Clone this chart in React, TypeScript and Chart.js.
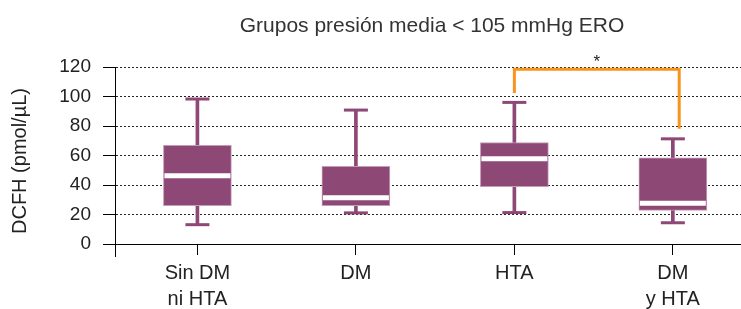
import React, { useEffect, useRef } from 'react';
import { Chart, registerables } from 'chart.js';

Chart.register(...registerables);

// ---- data ----
const categories: string[][] = [['Sin DM', 'ni HTA'], ['DM'], ['HTA'], ['DM', 'y HTA']];
const positions = [1, 2, 3, 4];
const whiskerMin = [13.1, 21.1, 21.3, 14.4];
const q1 = [26, 26, 38.9, 22.7];
const median = [46.3, 31.3, 57.8, 27.6];
const q3 = [66.9, 52.7, 68.8, 58.5];
const whiskerMax = [98.3, 90.8, 96, 71.3];
const yTicks = [0, 20, 40, 60, 80, 100, 120];
const bracketX = [3, 3, 4.04, 4.04];
const bracketY = [102.4, 118.5, 118.5, 78.2];
const starX = 3.52;
const starY = 126;
const titleText = 'Grupos presión media < 105 mmHg ERO';
const yTitleText = 'DCFH (pmol/µL)';
const starText = '*';

// ---- style ----
const FONT = '"Liberation Sans", Arial, Helvetica, sans-serif';
const PURPLE = '#8e4876';
const BOX_EDGE = '#c49bb6';
const ORANGE = '#f7941d';
const TEXT = '#222';

const annotate = {
  id: 'annotate',
  afterDraw(chart: any) {
    const { ctx, chartArea, scales } = chart;
    const x = scales.x;
    const y = scales.y;
    ctx.save();
    // title
    ctx.font = `21px ${FONT}`;
    ctx.fillStyle = '#333';
    ctx.textAlign = 'center';
    ctx.textBaseline = 'alphabetic';
    ctx.fillText(titleText, (chartArea.left + chartArea.right) / 2 + 4, 32);
    // y title
    ctx.save();
    ctx.translate(20, 161);
    ctx.rotate(-Math.PI / 2);
    ctx.font = `20px ${FONT}`;
    ctx.fillStyle = TEXT;
    ctx.textAlign = 'center';
    ctx.textBaseline = 'middle';
    ctx.fillText(yTitleText, 0, 0);
    ctx.restore();
    // significance star
    ctx.font = `17px ${FONT}`;
    ctx.fillStyle = TEXT;
    ctx.textAlign = 'center';
    ctx.textBaseline = 'middle';
    ctx.fillText(starText, x.getPixelForValue(starX), y.getPixelForValue(starY) + 4);
    // y-axis line continues a little below the x axis
    ctx.strokeStyle = '#000';
    ctx.lineWidth = 1;
    ctx.beginPath();
    const ax = Math.round(chartArea.left) + 0.5;
    ctx.moveTo(ax, chartArea.bottom);
    ctx.lineTo(ax, chartArea.bottom + 13);
    ctx.stroke();
    ctx.restore();
  },
};

export default function App() {
  const ref = useRef<HTMLCanvasElement | null>(null);

  useEffect(() => {
    document.body.style.margin = '0';
    const canvas = ref.current;
    if (!canvas) return;
    const chart = new Chart(canvas, {
      data: {
        datasets: [
          {
            type: 'bar',
            label: 'whisker',
            data: positions.map((p, i) => ({ x: p, y: [whiskerMin[i], whiskerMax[i]] })) as any,
            backgroundColor: PURPLE,
            barThickness: 3,
            grouped: false,
            order: 3,
          } as any,
          {
            type: 'bar',
            label: 'box',
            data: positions.map((p, i) => ({ x: p, y: [q1[i], q3[i]] })) as any,
            backgroundColor: PURPLE,
            borderColor: BOX_EDGE,
            borderWidth: 1,
            borderSkipped: false,
            barThickness: 68,
            grouped: false,
            order: 2,
          } as any,
          {
            type: 'line',
            label: 'median',
            data: positions.map((p, i) => ({ x: p, y: median[i] })),
            showLine: false,
            pointStyle: 'line',
            pointRadius: 33,
            pointBorderColor: '#ffffff',
            pointBorderWidth: 5,
            order: 1,
          } as any,
          {
            type: 'line',
            label: 'capMax',
            data: positions.map((p, i) => ({ x: p, y: whiskerMax[i] })),
            showLine: false,
            pointStyle: 'line',
            pointRadius: 12,
            pointBorderColor: PURPLE,
            pointBorderWidth: 3,
            order: 1,
          } as any,
          {
            type: 'line',
            label: 'capMin',
            data: positions.map((p, i) => ({ x: p, y: whiskerMin[i] })),
            showLine: false,
            pointStyle: 'line',
            pointRadius: 12,
            pointBorderColor: PURPLE,
            pointBorderWidth: 3,
            order: 1,
          } as any,
          {
            type: 'line',
            label: 'bracket',
            data: bracketX.map((bx, i) => ({ x: bx, y: bracketY[i] })),
            borderColor: ORANGE,
            borderWidth: 3,
            pointRadius: 0,
            tension: 0,
            fill: false,
            order: 0,
            borderJoinStyle: 'miter',
          } as any,
        ],
      },
      options: {
        responsive: false,
        animation: false,
        events: [],
        layout: { autoPadding: false, padding: { top: 67, bottom: 0, left: 0, right: 0 } },
        plugins: { legend: { display: false }, tooltip: { enabled: false }, title: { display: false } },
        scales: {
          x: {
            type: 'linear',
            min: 0.48,
            max: 4.43,
            offset: false,
            afterBuildTicks: (s: any) => {
              s.ticks = positions.map((v) => ({ value: v }));
            },
            afterFit: (s: any) => {
              s.height = 65;
              s.paddingLeft = 0;
              s.paddingRight = 0;
            },
            grid: {
              offset: false,
              drawOnChartArea: false,
              drawTicks: true,
              tickLength: 11,
              tickColor: '#000',
              tickWidth: 1,
            },
            border: { display: true, color: '#000', width: 1 },
            ticks: {
              callback: (v: any) => categories[positions.indexOf(Number(v))],
              font: { family: FONT, size: 20, lineHeight: 1.3 },
              color: TEXT,
              padding: 5,
              maxRotation: 0,
              minRotation: 0,
              autoSkip: false,
            },
          },
          y: {
            type: 'linear',
            min: 0,
            max: 120,
            afterBuildTicks: (s: any) => {
              s.ticks = yTicks.map((v) => ({ value: v }));
            },
            afterFit: (s: any) => {
              s.width = 115;
              s.paddingTop = 0;
              s.paddingBottom = 0;
            },
            grid: {
              color: '#222',
              lineWidth: 1,
              drawTicks: true,
              tickLength: 12,
              tickColor: '#000',
              tickWidth: 1,
            },
            border: { display: true, color: '#000', width: 1, dash: [2, 2] },
            ticks: {
              font: { family: FONT, size: 19 },
              color: TEXT,
              padding: 12,
            },
          },
        },
      } as any,
      plugins: [annotate],
    });
    return () => chart.destroy();
  }, []);

  return (
    <div style={{ position: 'fixed', left: 0, top: 0, width: 741, height: 309 }}>
      <canvas ref={ref} width={741} height={309} />
    </div>
  );
}
